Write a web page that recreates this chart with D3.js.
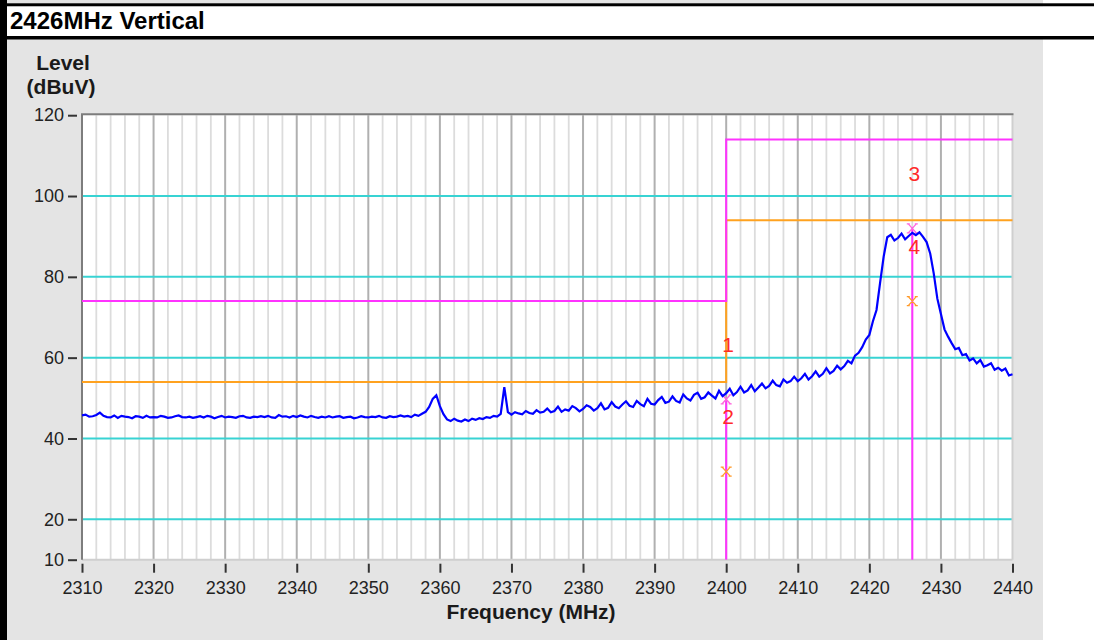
<!DOCTYPE html>
<html><head><meta charset="utf-8">
<script src="https://cdn.jsdelivr.net/npm/d3@7"></script>
<style>html,body{margin:0;padding:0;background:#fff;} svg{display:block}</style>
</head><body><svg id="c" width="1094" height="640"></svg>
<script>
const title = "2426MHz Vertical";
const yTitle = ["Level", "(dBuV)"];
const xTitle = "Frequency (MHz)";
const xTicks = [2310, 2320, 2330, 2340, 2350, 2360, 2370, 2380, 2390, 2400, 2410, 2420, 2430, 2440];
const yTicks = [10, 20, 40, 60, 80, 100, 120];
const yGrid = [20, 40, 60, 80, 100];
const sweepStart = 2310, sweepStep = 0.5;
const level = [
 45.7,45.9,45.4,45.5,45.8,46.4,45.6,45.3,45.2,45.7,
 45.1,45.6,45.4,45.3,45.0,45.5,45.4,45.1,45.6,45.2,
 45.3,45.2,45.6,45.4,45.1,45.2,45.5,45.7,45.3,45.2,
 45.4,45.1,45.3,45.5,45.2,45.6,45.4,45.0,45.3,45.6,
 45.2,45.4,45.3,45.1,45.5,45.6,45.2,45.1,45.4,45.3,
 45.5,45.3,45.6,45.2,45.1,45.8,45.4,45.5,45.2,45.6,
 45.3,45.7,45.4,45.2,45.6,45.3,45.1,45.4,45.2,45.5,
 45.2,45.4,45.5,45.1,45.3,45.4,45.0,45.2,45.5,45.3,
 45.2,45.4,45.3,45.6,45.2,45.1,45.5,45.3,45.4,45.7,
 45.4,45.6,45.3,45.9,45.6,46.1,46.6,47.8,49.8,50.7,
 48.0,46.0,44.7,44.3,44.9,44.4,44.2,44.7,44.3,44.9,
 44.6,45.0,44.8,45.3,45.1,45.6,45.4,46.1,52.7,46.5,
 45.9,46.5,46.2,46.0,46.8,46.3,46.1,47.0,46.4,46.6,
 47.4,46.5,46.8,47.9,46.6,47.2,46.9,48.0,47.5,46.7,
 47.3,48.2,47.8,46.9,47.5,48.7,47.2,47.6,49.0,47.9,
 47.5,48.4,49.2,48.1,47.8,49.3,48.5,48.0,49.8,48.6,
 48.4,49.5,50.3,48.8,49.1,50.4,49.3,48.9,50.9,49.9,
 49.4,50.8,51.3,49.8,50.2,51.4,50.6,49.9,51.8,50.5,
 51.2,52.3,50.7,51.5,52.8,51.4,51.9,53.2,51.7,52.6,
 53.6,52.4,53.0,54.3,53.2,52.9,54.6,53.8,54.2,55.3,
 54.2,54.9,56.0,54.6,55.4,56.6,55.3,56.0,57.4,56.1,
 56.7,58.0,57.1,57.9,59.2,58.6,60.5,61.2,62.6,64.5,
 65.6,69.0,71.8,78.5,85.0,89.8,90.4,89.0,89.6,90.7,
 89.3,90.1,90.9,90.3,91.0,89.9,88.6,85.8,80.8,74.6,
 70.8,67.0,65.2,63.6,62.1,62.4,60.6,60.9,59.3,59.8,
 58.6,59.4,57.8,58.1,58.6,57.0,57.5,56.8,57.3,55.6,
 55.9
];
const limitPeak = [[2310, 74], [2400, 74], [2400, 114], [2440, 114]];
const limitAvg  = [[2310, 54], [2400, 54], [2400, 94], [2440, 94]];
const markerFreq  = [2400, 2400, 2426, 2426];
const markerLevel = [49.7, 31.8, 92.0, 74.0];
const markerLabel = ["1", "2", "3", "4"];
const markerKind  = ["pk", "av", "pk", "av"];

const svg = d3.select("#c");
const W = 1094, H = 640;
const FONT = "'Liberation Sans', Arial, sans-serif";

// page frame
svg.append("rect").attr("x",0).attr("y",0).attr("width",W).attr("height",H).attr("fill","#ffffff");
svg.append("rect").attr("x",7).attr("y",0).attr("width",1036).attr("height",H).attr("fill","#e4e4e4");
svg.append("rect").attr("x",0).attr("y",0).attr("width",7).attr("height",H).attr("fill","#000");
svg.append("rect").attr("x",0).attr("y",3.3).attr("width",W).attr("height",3.2).attr("fill","#000");
svg.append("rect").attr("x",7).attr("y",6.5).attr("width",W-7).attr("height",29.5).attr("fill","#fff");
svg.append("rect").attr("x",0).attr("y",36).attr("width",W).attr("height",3.5).attr("fill","#000");
svg.append("text").attr("x",10).attr("y",29).attr("font-family",FONT).attr("font-weight","bold")
  .attr("font-size",24).attr("fill","#000").text(title);

const x = d3.scaleLinear().domain([2310, 2440]).range([82, 1012.5]);
const y = d3.scaleLinear().domain([10, 120]).range([559.7, 115.2]);
const [x0, x1] = x.range(), [y0, y1] = y.range();

svg.append("rect").attr("x",x0).attr("y",y1).attr("width",x1-x0).attr("height",y0-y1).attr("fill","#fff");

// vertical grid
const gv = svg.append("g");
gv.selectAll("line.minor").data(d3.range(2312, 2440, 2).filter(f => f % 10 !== 0)).join("line")
  .attr("x1", d => x(d)).attr("x2", d => x(d)).attr("y1", y1).attr("y2", y0)
  .attr("stroke", "#dcdcdc").attr("stroke-width", 1.8);
gv.selectAll("line.major").data(xTicks.slice(1, -1)).join("line")
  .attr("x1", d => x(d)).attr("x2", d => x(d)).attr("y1", y1).attr("y2", y0)
  .attr("stroke", "#b0b0b0").attr("stroke-width", 2);
// horizontal grid
svg.append("g").selectAll("line").data(yGrid).join("line")
  .attr("x1", x0).attr("x2", x1).attr("y1", d => y(d)).attr("y2", d => y(d))
  .attr("stroke", "#38d3d3").attr("stroke-width", 2);

// plot frame
svg.append("line").attr("x1",x0).attr("x2",x1).attr("y1",y0).attr("y2",y0).attr("stroke","#cfcfcf").attr("stroke-width",2);
svg.append("line").attr("x1",x1).attr("x2",x1).attr("y1",y1).attr("y2",y0).attr("stroke","#cfcfcf").attr("stroke-width",2);
svg.append("line").attr("x1",x0).attr("x2",x0).attr("y1",y1-1).attr("y2",y0).attr("stroke","#7d7d7d").attr("stroke-width",2);
svg.append("line").attr("x1",x0-1).attr("x2",x1+1).attr("y1",y1-1).attr("y2",y1-1).attr("stroke","#7d7d7d").attr("stroke-width",2);

// axes
const xAxis = d3.axisBottom(x).tickValues(xTicks).tickSize(9).tickPadding(8).tickFormat(d3.format("d"));
const gx = svg.append("g").attr("transform", `translate(0,${y0 + 4})`).call(xAxis);
gx.select(".domain").remove();
gx.selectAll(".tick line").attr("stroke", "#333").attr("stroke-width", 2);
gx.selectAll(".tick text").attr("font-family", FONT).attr("font-size", 18).attr("fill", "#222").attr("dy","0.72em");

const yAxis = d3.axisLeft(y).tickValues(yTicks).tickSize(9).tickPadding(4);
const gy = svg.append("g").attr("transform", `translate(${x0 - 5},0)`).call(yAxis);
gy.select(".domain").remove();
gy.selectAll(".tick line").attr("stroke", "#333").attr("stroke-width", 2);
gy.selectAll(".tick text").attr("font-family", FONT).attr("font-size", 18).attr("fill", "#222");

svg.append("text").attr("x", 63).attr("y", 70).attr("text-anchor","middle").attr("font-family",FONT)
  .attr("font-weight","bold").attr("font-size",21).attr("fill","#1a1a1a").text(yTitle[0]);
svg.append("text").attr("x", 61).attr("y", 94).attr("text-anchor","middle").attr("font-family",FONT)
  .attr("font-weight","bold").attr("font-size",21).attr("fill","#1a1a1a").text(yTitle[1]);
svg.append("text").attr("x", 531).attr("y", 619).attr("text-anchor","middle").attr("font-family",FONT)
  .attr("font-weight","bold").attr("font-size",21).attr("fill","#1a1a1a").text(xTitle);

// marker vertical lines
const mk = markerFreq.map((f, i) => ({f, v: markerLevel[i], label: markerLabel[i], kind: markerKind[i]}));
const mline = d3.rollups(mk, v => d3.max(v, d => d.v), d => d.f);
svg.append("g").selectAll("line").data(mline).join("line")
  .attr("x1", d => x(d[0])).attr("x2", d => x(d[0])).attr("y1", y0).attr("y2", d => y(d[1]))
  .attr("stroke", "#ff33ff").attr("stroke-width", 2);

// limit lines
const lineGen = d3.line().x(d => x(d[0])).y(d => y(d[1]));
svg.append("path").attr("d", lineGen(limitAvg)).attr("fill","none").attr("stroke","#ffa21f").attr("stroke-width",2);
svg.append("path").attr("d", lineGen(limitPeak)).attr("fill","none").attr("stroke","#ff33ff").attr("stroke-width",2);

// marker symbols (serif x)
const sym = (cx, cy) =>
  `M${cx-4},${cy-4.5}L${cx+4},${cy+4.5}M${cx+4},${cy-4.5}L${cx-4},${cy+4.5}` +
  `M${cx-5.5},${cy-4.5}H${cx-2.5}M${cx+2.5},${cy-4.5}H${cx+5.5}` +
  `M${cx-5.5},${cy+4.5}H${cx-2.5}M${cx+2.5},${cy+4.5}H${cx+5.5}`;
svg.append("g").selectAll("path").data(mk).join("path")
  .attr("d", d => sym(x(d.f), y(d.v)))
  .attr("fill","none").attr("stroke", d => d.kind === "pk" ? "#ff66dd" : "#ff9a2a").attr("stroke-width", 1.3);

// trace
const trace = level.map((v, i) => [sweepStart + i * sweepStep, v]);
svg.append("path").attr("d", lineGen(trace)).attr("fill","none").attr("stroke","#0000ff")
  .attr("stroke-width",2.2).attr("stroke-linejoin","miter");

// marker labels
svg.append("g").selectAll("text").data(mk).join("text")
  .attr("x", d => x(d.f) + 2).attr("y", d => y(d.v) - 55).attr("dy","0.36em")
  .attr("text-anchor","middle").attr("font-family",FONT).attr("font-size",21).attr("fill","#ff2a2a")
  .text(d => d.label);
</script></body></html>
